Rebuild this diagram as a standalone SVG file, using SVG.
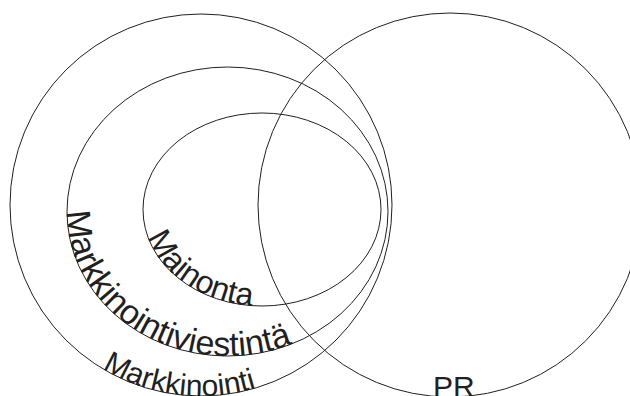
<svg xmlns="http://www.w3.org/2000/svg" xmlns:xlink="http://www.w3.org/1999/xlink" width="630" height="396" viewBox="0 0 630 396">
<style>
.ring{fill:none;stroke:#231f20;stroke-width:1}
.lbl{font-family:"Liberation Sans",Arial,sans-serif;fill:#231f20}
</style>
<defs>
<path id="pOuter" d="M 10,205 A 191 191 0 0 0 392,205"/>
<path id="pMiddle" d="M 67,211.5 A 160.5 144.5 0 0 0 388,211.5"/>
<path id="pInner" d="M 143,209.5 A 119 96.5 0 0 0 381,209.5"/>
</defs>
<rect width="630" height="396" fill="#ffffff"/>
<g id="markkinointi">
<circle class="ring" cx="201" cy="205" r="191"/>
<text class="lbl" font-size="30"><textPath xlink:href="#pOuter" href="#pOuter" startOffset="196">Markkinointi</textPath></text>
</g>
<g id="pr">
<circle class="ring" cx="450" cy="205" r="192"/>
<text class="lbl" font-size="30" x="433" y="397">PR</text>
</g>
<g id="markkinointiviestinta">
<ellipse class="ring" cx="227.5" cy="211.5" rx="160.5" ry="144.5"/>
<text class="lbl" font-size="34"><textPath xlink:href="#pMiddle" href="#pMiddle" startOffset="0">Markkinointiviestintä</textPath></text>
</g>
<g id="mainonta">
<ellipse class="ring" cx="262" cy="209.5" rx="119" ry="96.5"/>
<text class="lbl" font-size="32"><textPath xlink:href="#pInner" href="#pInner" startOffset="28">Mainonta</textPath></text>
</g>
</svg>
